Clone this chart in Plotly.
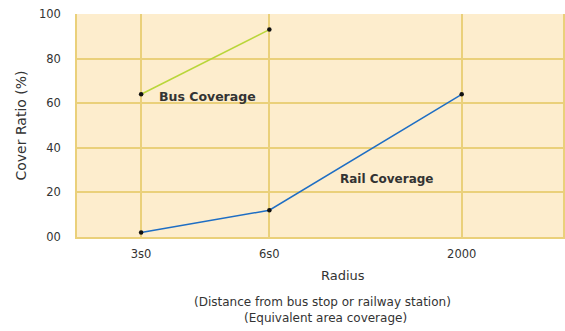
import plotly.graph_objects as go

# Coverage data
radius_labels = ["3s0", "6s0", "2000"]
bus_coverage = [64, 93]
rail_coverage = [2, 12, 64]
y_ticks = [0, 20, 40, 60, 80, 100]
y_tick_text = ["00", "20", "40", "60", "80", "100"]

# horizontal placement of each radius on the axis (non-uniform spacing)
pos = {"3s0": 1.0, "6s0": 2.0, "2000": 3.5}
x_bus = [pos[r] for r in radius_labels[:len(bus_coverage)]]
x_rail = [pos[r] for r in radius_labels]

grid = "#EAD07A"
font = "DejaVu Sans, Verdana, sans-serif"
ink = "#333333"

fig = go.Figure()
fig.add_trace(go.Scatter(
    x=x_bus, y=bus_coverage, mode="lines+markers",
    line=dict(color="#B9D63A", width=1.5),
    marker=dict(color="#111111", size=4.5),
    showlegend=False,
))
fig.add_trace(go.Scatter(
    x=x_rail, y=rail_coverage, mode="lines+markers",
    line=dict(color="#1E6EC4", width=1.5),
    marker=dict(color="#111111", size=4.5),
    showlegend=False,
))

fig.add_annotation(x=1.52, y=63.2, text="<b>Bus Coverage</b>", showarrow=False,
                   font=dict(size=12.5, color=ink, family=font))
fig.add_annotation(x=2.92, y=25.9, text="<b>Rail Coverage</b>", showarrow=False,
                   font=dict(size=12, color=ink, family=font))

fig.add_annotation(x=344, y=331 - 275, xref="paper", yref="paper", text="Radius",
                   showarrow=False, font=dict(size=13, color=ink, family=font))
fig.add_annotation(x=324, y=331 - 302, xref="paper", yref="paper",
                   text="(Distance from bus stop or railway station)",
                   showarrow=False, font=dict(size=12, color=ink, family=font))
fig.add_annotation(x=327, y=331 - 318, xref="paper", yref="paper",
                   text="(Equivalent area coverage)",
                   showarrow=False, font=dict(size=12, color=ink, family=font))

# convert the pixel-placed paper annotations into paper fractions
L, R, T, B = 77, 0, 14, 94
W, H = 565, 331
pw, ph = W - L - R, H - T - B
for a in fig.layout.annotations:
    if a.xref == "paper":
        a.x = (a.x - L) / pw
        a.y = (a.y - B) / ph
        a.xanchor = "center"
        a.yanchor = "middle"

fig.update_layout(
    width=W, height=H,
    margin=dict(l=L, r=R, t=T, b=B),
    paper_bgcolor="white",
    plot_bgcolor="#FDEDCD",
    font=dict(family=font, size=12, color=ink),
    xaxis=dict(
        range=[0.5, 4.29], tickvals=x_rail, ticktext=radius_labels,
        showgrid=True, gridcolor=grid, gridwidth=1.5,
        showline=True, linecolor=grid, linewidth=1.5,
        zeroline=False, ticks="", ticklabelstandoff=5,
        tickfont=dict(size=11.5, color=ink),
    ),
    yaxis=dict(
        range=[0, 100], tickvals=y_ticks, ticktext=y_tick_text,
        showgrid=True, gridcolor=grid, gridwidth=1.5,
        showline=True, linecolor=grid, linewidth=1.5, mirror=True,
        zeroline=False, ticks="", ticklabelstandoff=12,
        tickfont=dict(size=11.5, color=ink),
        title=dict(text="Cover Ratio (%)", font=dict(size=14, color=ink), standoff=9),
    ),
)

fig.write_html("out.html")
